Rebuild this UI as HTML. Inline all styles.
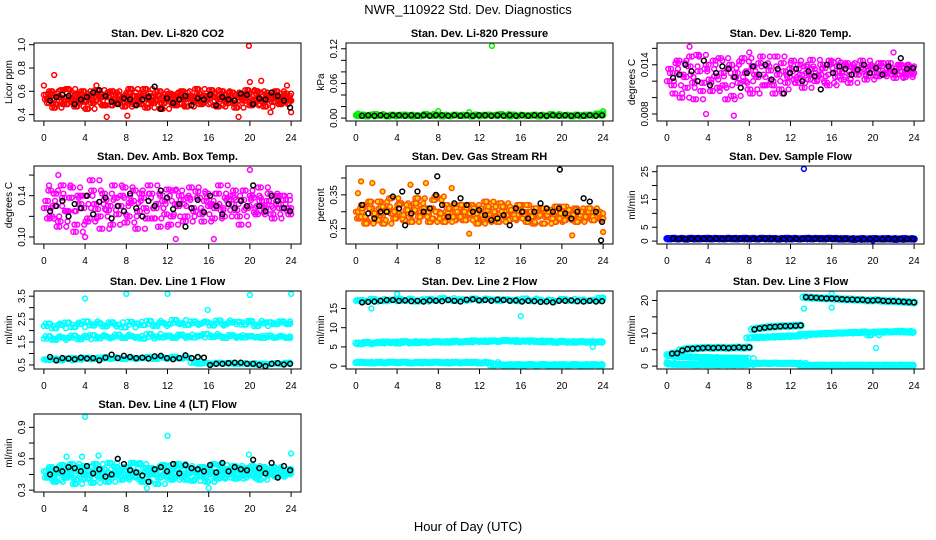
<!DOCTYPE html>
<html><head><meta charset="utf-8"><style>
body{margin:0;background:#fff}
svg{display:block;font-family:"Liberation Sans",sans-serif}
</style></head><body>
<svg id="c" width="936" height="540" viewBox="0 0 936 540">
<rect width="936" height="540" fill="#fff"/>
<text x="468" y="14" text-anchor="middle" font-size="13">NWR_110922  Std. Dev. Diagnostics</text>
<text x="468" y="531" text-anchor="middle" font-size="13">Hour of Day (UTC)</text>
</svg>
<script>
const xTicks=[0,4,8,12,16,20,24];
// CO2
const co2A=[57,53,60,49,55,51,62,54,47,58,52,56,50,61,55,48,59,53,57,51,56,62,49,54,58,46,56,52,60,50,54,57,48,59,53,55,51,62,49,56,54,58,47,60,52,55,50,57,54,61,48,53,59,51,56,54,60,49,56,53];
const co2B=[50,58,46,55,61,49,53,57,51,60,45,56,52,58,48,55,60,50,53,47,59,51,56,49,62,53,50,57,45,55,58,49,54,60,47,56,52,58,50,55,61,48,53,57,50,59,46,55,52,58,49,60,53,47,57,51,55,50,58,52];
const co2Black=[52,55,57,56,49,53,55,59,61,56,51,49,54,53,48,53,55,64,45,54,50,53,56,48,54,53,57,48,55,53,52,58,57,49,54,53,59,56,52,46];
const co2OutH=[1.0,19.9,20.0,21.1,6.1,8.1,18.9,22,24,0,23.6,5.1];
const co2OutV=[0.74,0.99,0.68,0.69,0.38,0.39,0.38,0.42,0.42,0.65,0.65,0.65];
// Pressure
const presG=[5,4,6,3,5,7,4,5,3,6,5,4,6,5,3,5,4,7,5,4,6,3,5,4,6,5,4,5,3,6,5,4,6,5,4,7,5,3,6,4,5,5,4,6,3,5,4,7,5,6,4,5,3,6,5,4,6,5,8,5];
const presBlack=[4,5,4,5,4,5,5,4,5,4,5,4,5,5,4,5,4,5,4,5,5,4,5,4,5,4,5,4,5,5,4,5,4,5,4,5,4,5,4,5];
const presOutH=[13.2,8,0.2,24,11];
const presOutV=[0.125,0.012,0.008,0.012,0.01];
// Li-820 temp
const tmpA=[120,135,105,145,128,112,150,98,132,118,140,108,126,148,115,136,102,130,144,120,110,138,125,150,115,133,105,128,142,118,135,122,140,112,130,146,120,128,136,115,143,125,132,140,118,137,128,145,122,134,138,126,142,130,136,124,140,132,128,135];
const tmpB=[130,115,142,100,125,138,118,152,108,135,122,145,112,130,98,140,125,118,148,132,105,128,142,115,138,120,150,110,132,125,145,118,128,138,122,135,126,140,118,145,130,138,122,142,128,135,132,140,126,138,130,142,128,136,132,128,140,125,138,130];
const tmpBlack=[124,128,140,132,120,145,115,130,138,135,125,112,130,138,128,140,122,135,105,130,135,120,132,126,110,140,130,138,135,128,134,140,130,136,128,138,132,148,135,136];
const tmpOutH=[2.2,6.5,3.8,8,22];
const tmpOutV=[0.0162,0.0078,0.008,0.0155,0.0155];
// Amb box temp
const ambA=[128,135,120,142,115,138,125,148,112,132,140,118,145,127,108,136,130,150,122,140,114,133,145,125,138,118,142,128,110,135,146,120,132,140,115,138,128,144,122,135,130,118,142,126,138,132,145,120,136,128,140,124,148,130,135,122,140,128,136,125];
const ambB=[118,145,130,110,150,125,138,105,140,128,115,155,132,120,142,126,112,138,130,148,120,135,108,142,128,150,118,132,140,122,112,145,130,136,120,148,125,138,115,142,132,128,150,120,136,140,126,112,145,130,138,122,135,128,142,118,132,140,128,122];
const ambBlack=[125,130,135,120,132,128,140,122,134,138,118,130,125,142,128,120,135,130,145,138,127,132,110,128,136,124,140,130,122,132,128,135,130,150,130,125,140,135,128,125];
const ambOutH=[20,0.5,1.4,12.8,16.5,4];
const ambOutV=[0.165,0.15,0.16,0.098,0.098,0.1];
// RH
const rhA=[300,280,320,270,310,290,330,265,305,295,285,325,275,315,300,340,290,310,270,335,300,285,320,295,275,310,300,290,320,280,305,270,315,295,285,325,300,275,310,290,320,280,300,265,310,295,285,305,270,315,300,290,280,310,295,275,305,300,285,290];
const rhB=[285,310,265,330,295,275,315,300,340,280,320,290,305,270,325,285,310,300,280,345,295,270,310,285,300,320,275,295,310,265,290,330,280,300,270,315,290,305,280,320,300,270,285,310,290,265,300,280,315,295,275,305,290,270,300,285,310,275,295,280];
const rhBlack=[320,295,280,300,300,345,310,260,295,360,300,310,350,320,285,325,340,320,300,305,290,275,280,290,260,310,300,280,300,325,310,300,310,295,280,300,340,330,300,270];
const rhOutH=[0.2,0.5,1.6,2.6,5.3,6.8,11,21,24,9.3];
const rhOutV=[0.355,0.39,0.385,0.36,0.38,0.385,0.235,0.23,0.24,0.37];
const rhBOutH=[19.8,23.8,7.9,4.5];
const rhBOutV=[0.425,0.215,0.405,0.36];
// Sample flow
const sfBlue=[9,8,10,8,9,7,10,9,8,9,10,8,9,9,8,10,9,8,9,10,8,9,8,10,9,8,9,7,9,10,8,9,8,9,10,8,9,9,8,10,9,8,7,9,8,6,8,9,7,8,9,8,7,9,8,6,8,9,8,7];
const sfBlack=[9,9,8,9,9,8,9,9,8,9,9,8,9,8,9,9,8,9,8,8,9,8,9,8,8,9,8,8,7,8,7,7,7,8,7,7,8,7,7,8];
const sfOutH=[13.3,20];
const sfOutV=[26,0.2];
// Line 1
const l1Top=[220,230,210,225,235,215,228,240,222,232,218,236,226,214,238,230,224,242,220,234,228,246,232,225,240,230,236,222,244,228,235,238,226,242,220,232,236,228,240,230];
const l1Mid=[165,175,160,170,168,178,162,172,180,166,175,170,182,168,176,172,165,185,174,170,178,168,182,175,170,178,185,172,176,168,180,174,170,176,172,168,178,170,174,168];
const l1Low=[75,72,78,70,76,80,74,82,78,76,84,78,80,76,82,78,80,85,76,82,80,86,78,82,60,56,58,55,60,58,56,54,58,55,52,56,54,58,55,60];
const l1Black=[85,70,80,78,75,82,78,80,70,82,95,80,90,85,80,82,78,88,90,80,75,80,92,80,85,82,50,55,55,58,60,60,55,55,50,45,55,58,52,55];
const l1OutH=[4,8,12,20,24,15.9];
const l1OutV=[3.4,3.6,3.6,3.55,3.6,2.9];
// Line 2
const l2Top=[170,172,168,175,171,169,173,176,170,174,168,172,175,171,177,173,170,174,172,176,171,175,173,170,174,172,169,176,171,173,168,172,170,175,171,169,173,170,172,178];
const l2Mid=[60,58,62,60,61,63,62,60,64,62,61,63,62,64,63,62,65,63,64,66,65,64,66,65,67,66,64,65,66,64,63,65,62,64,63,62,64,63,62,63];
const l2Low=[9,10,9,8,10,9,10,9,10,8,9,10,9,10,9,8,10,9,9,10,8,9,3,4,3,3,4,3,4,3,4,3,3,4,3,4,3,3,4,3];
const l2Black=[166,167,168,170,172,172,170,171,169,170,168,171,170,169,172,170,168,173,174,171,172,170,173,172,170,171,168,170,169,167,168,166,170,170,171,169,168,170,168,169];
const l2OutH=[1.5,16,23,4];
const l2OutV=[15,13,5,18.8];
// Line 3
const l3Black=[3.8,3.9,4.8,5.2,5.3,5.4,5.5,5.6,5.5,5.6,5.6,5.5,5.6,5.7,5.6,5.7,11.2,11.5,11.7,11.9,12,12.1,12.2,12.2,12.3,12.4,21.0,20.9,20.8,20.7,20.6,20.6,20.5,20.4,20.3,20.3,20.2,20.2,20.0,20.0,20.1,19.9,19.8,19.8,19.7,19.6,19.5,19.4];
const l3Mid=[3.5,3.2,3.0,2.9,2.8,2.7,2.7,2.6,2.6,2.5,2.5,2.5,2.4,2.4,2.4,2.3,8.6,8.7,8.8,8.8,8.9,9.0,9.0,9.1,9.2,9.2,9.6,9.7,9.8,9.8,9.9,10.0,10.0,10.1,10.1,10.2,10.3,10.2,10.4,9.5,10.3,10.4,10.5,10.4,10.5,10.6,10.4,10.3];
const l3Low=[0.8,0.6,0.5,0.5,0.5,0.5,0.4,0.5,0.5,0.5,0.4,0.5,0.5,0.4,0.5,0.5,0.9,0.9,0.8,0.9,0.8,0.9,0.8,0.8,0.9,0.8,0.3,0.3,0.2,0.3,0.3,0.2,0.3,0.3,0.2,0.3,0.3,0.3,0.2,0.3,0.3,0.2,0.3,0.3,0.2,0.3,0.3,0.2];
const l3OutH=[13.3,16,16,20.3,0];
const l3OutV=[17.5,17.8,22,5.5,1.2];
// Line 4
const l4A=[48,42,52,38,46,50,44,55,40,48,53,45,37,50,47,42,56,44,49,40,52,46,43,55,38,48,51,45,42,54,47,40,50,44,53,46,39,49,52,43,47,55,41,48,50,45,53,42,47,51,44,49,40,52,46,48,43,50,45,47];
const l4B=[44,50,40,47,54,42,49,36,52,45,41,48,55,43,50,38,46,52,44,49,42,56,47,40,51,45,48,36,53,44,49,42,55,46,40,50,47,43,52,38,48,45,54,42,49,46,41,51,44,48,53,42,47,50,45,52,43,48,46,50];
const l4Black=[45,50,48,52,51,48,53,46,50,43,45,60,55,49,47,44,38,50,52,48,55,46,54,51,50,48,54,47,56,48,52,50,49,59,51,46,56,42,53,49];
const l4OutH=[4,12,2.2,5.3,19.9,24,16,10,3.7];
const l4OutV=[1.0,0.82,0.62,0.63,0.64,0.65,0.32,0.32,0.62];

const svg=document.getElementById('c');
const NS='http://www.w3.org/2000/svg';
function mk(tag,attrs,parent){const e=document.createElementNS(NS,tag);for(const k in attrs)e.setAttribute(k,attrs[k]);(parent||svg).appendChild(e);return e;}
const colX=[34,346,657], rowY=[43,166,291,414], W=267, H=78;
const RED='#ff0000',GRN='#00ee00',MAG='#ff00ff',CYN='#00ffff',BLU='#0000ff',BLK='#000000';

function panel(p){
  const x0=colX[p.col],y0=rowY[p.row];
  const g=mk('g',{});
  
  
  const xs=h=>x0+W*(h+0.96)/25.92;
  const pad=(p.ymax-p.ymin)*0.04;
  const ys=v=>y0+H-H*(v-p.ymin+pad)/(p.ymax-p.ymin+2*pad);
  const t=mk('text',{x:x0+W/2,y:y0-6,'text-anchor':'middle','font-size':11,'font-weight':'bold'},g);
  t.textContent=p.title;
  
  
  const yl=mk('text',{x:0,y:0,'text-anchor':'middle','font-size':10,transform:`translate(${x0-22},${y0+H/2}) rotate(-90)`},g);
  yl.textContent=p.ylab;
  
  
  mk('line',{x1:xs(0),x2:xs(24),y1:y0+H,y2:y0+H,stroke:'#000'},g);
  xTicks.forEach(h=>{
    mk('line',{x1:xs(h),x2:xs(h),y1:y0+H,y2:y0+H+5,stroke:'#000'},g);
    const tl=mk('text',{x:xs(h),y:y0+H+20,'text-anchor':'middle','font-size':10},g);
    tl.textContent=h;
    
    
  });
  p.ticks.forEach(v=>{
    mk('line',{x1:x0,x2:x0-5,y1:ys(v),y2:ys(v),stroke:'#000'},g);
  });
  p.labels.forEach(v=>{
    const tl=mk('text',{x:0,y:0,'text-anchor':'middle','font-size':10,transform:`translate(${x0-9},${ys(v)}) rotate(-90)`},g);
    tl.textContent=p.fmt?p.fmt(v):v;
    
    
  });
  const pts=mk('g',{fill:'none','stroke-width':1.5},g);
  function dot(h,v,col,fill,r){
    const c=mk('circle',{cx:xs(h),cy:ys(v),r:r||2.4,stroke:col,fill:fill||'none'},pts);
    
    
  }
  p.series.forEach(s=>{
    if(s.h){s.v.forEach((v,i)=>dot(s.h[i],v*s.k,s.c,s.f,s.r));}
    else{
      const n=s.v.length,a=s.a??0.1,b=s.b??23.9,rep=s.rep||1;
      for(let j=0;j<rep;j++){
        const sh=j*(b-a)/(n-1)/rep;
        const off=j===0?0:(j%2?1:-1);
        s.v.forEach((v,i)=>{
          const vv=s.v[Math.max(0,Math.min(n-1,i+off))];
          const h=Math.min(b,a+sh+(b-a)*i/(n-1));
          dot(h,vv*s.k,s.c,s.f,s.r);
        });
      }
    }
  });
  const b=mk('rect',{x:x0,y:y0,width:W,height:H,fill:'none',stroke:'#000'},g);
  
  
}
const f2=v=>v.toFixed(1), f3=v=>v.toFixed(3), fx2=v=>v.toFixed(2);
const RHC='#ff5500',RHF='#ffdd00';
panel({name:'panel-li820-co2',col:0,row:0,title:'Stan. Dev. Li-820 CO2',ylab:'Licor ppm',ymin:0.37,ymax:0.99,ticks:[0.4,0.6,0.8,1.0],labels:[0.4,0.6,0.8,1.0],fmt:f2,
 series:[{v:co2A,k:0.01,c:RED,a:0,b:23.9,rep:4},{v:co2B,k:0.01,c:RED,a:0.3,b:24,rep:4},{h:co2OutH,v:co2OutV,k:1,c:RED},{v:co2Black,k:0.01,c:BLK,a:0.6,b:23.9}]});
panel({name:'panel-li820-pressure',col:1,row:0,title:'Stan. Dev. Li-820 Pressure',ylab:'kPa',ymin:0,ymax:0.125,ticks:[0,0.02,0.04,0.06,0.08,0.1,0.12],labels:[0,0.06,0.12],fmt:fx2,
 series:[{v:presG,k:0.001,c:GRN,a:0,b:24,rep:4},{h:presOutH,v:presOutV,k:1,c:GRN},{v:presBlack,k:0.001,c:BLK,a:0.6,b:23.9}]});
panel({name:'panel-li820-temp',col:2,row:0,title:'Stan. Dev. Li-820 Temp.',ylab:'degrees C',ymin:0.0075,ymax:0.0163,ticks:[0.008,0.010,0.012,0.014,0.016],labels:[0.008,0.014],fmt:f3,
 series:[{v:tmpA,k:0.0001,c:MAG,a:0,b:23.9,rep:3},{v:tmpB,k:0.0001,c:MAG,a:0.3,b:24,rep:3},{h:tmpOutH,v:tmpOutV,k:1,c:MAG},{v:tmpBlack,k:0.0001,c:BLK,a:0.6,b:23.9}]});
panel({name:'panel-amb-box-temp',col:0,row:1,title:'Stan. Dev. Amb. Box Temp.',ylab:'degrees C',ymin:0.096,ymax:0.166,ticks:[0.10,0.12,0.14,0.16],labels:[0.10,0.14],fmt:fx2,
 series:[{v:ambA,k:0.001,c:MAG,a:0,b:23.9,rep:3},{v:ambB,k:0.001,c:MAG,a:0.3,b:24,rep:3},{h:ambOutH,v:ambOutV,k:1,c:MAG},{v:ambBlack,k:0.001,c:BLK,a:0.6,b:23.9}]});
panel({name:'panel-gas-stream-rh',col:1,row:1,title:'Stan. Dev. Gas Stream RH',ylab:'percent',ymin:0.213,ymax:0.427,ticks:[0.25,0.30,0.35,0.40],labels:[0.25,0.35],fmt:fx2,
 series:[{v:rhA,k:0.001,c:RHC,f:RHF,a:0,b:23.9,rep:4},{v:rhB,k:0.001,c:RHC,f:RHF,a:0.3,b:24,rep:4},{h:rhOutH,v:rhOutV,k:1,c:RHC,f:RHF},{v:rhBlack,k:0.001,c:BLK,a:0.6,b:23.9},{h:rhBOutH,v:rhBOutV,k:1,c:BLK}]});
panel({name:'panel-sample-flow',col:2,row:1,title:'Stan. Dev. Sample Flow',ylab:'ml/min',ymin:0,ymax:26,ticks:[0,5,10,15,20,25],labels:[0,5,15,25],
 series:[{v:sfBlue,k:0.1,c:BLU,a:0,b:24,rep:4,r:2.8},{h:sfOutH,v:sfOutV,k:1,c:BLU},{v:sfBlack,k:0.1,c:BLK,a:0.6,b:23.9}]});
panel({name:'panel-line1-flow',col:0,row:2,title:'Stan. Dev. Line 1 Flow',ylab:'ml/min',ymin:0.45,ymax:3.6,ticks:[0.5,1,1.5,2,2.5,3,3.5],labels:[0.5,1.5,2.5,3.5],fmt:f2,
 series:[{v:l1Top,k:0.01,c:CYN,a:0,b:23.9,rep:4},{v:l1Mid,k:0.01,c:CYN,a:0,b:23.9,rep:4},{v:l1Low,k:0.01,c:CYN,a:0,b:23.9,rep:4},{h:l1OutH,v:l1OutV,k:1,c:CYN},{v:l1Black,k:0.01,c:BLK,a:0.6,b:23.9}]});
panel({name:'panel-line2-flow',col:1,row:2,title:'Stan. Dev. Line 2 Flow',ylab:'ml/min',ymin:0,ymax:18.8,ticks:[0,5,10,15],labels:[0,5,10,15],
 series:[{v:l2Top,k:0.1,c:CYN,a:0,b:24,rep:4},{v:l2Mid,k:0.1,c:CYN,a:0,b:23.9,rep:4,r:2.8},{v:l2Low,k:0.1,c:CYN,a:0,b:23.9,rep:4,r:2.8},{h:l2OutH,v:l2OutV,k:1,c:CYN},{v:l2Black,k:0.1,c:BLK,a:0.6,b:23.9}]});
panel({name:'panel-line3-flow',col:2,row:2,title:'Stan. Dev. Line 3 Flow',ylab:'ml/min',ymin:0,ymax:22,ticks:[0,5,10,15,20],labels:[0,5,10,20],
 series:[{v:l3Black,k:1,c:CYN,a:0.5,b:24,r:3.2,rep:2},{v:l3Mid,k:1,c:CYN,a:0,b:23.9,rep:4,r:2.8},{v:l3Low,k:1,c:CYN,a:0,b:23.9,rep:4,r:2.8},{h:l3OutH,v:l3OutV,k:1,c:CYN},{v:l3Black,k:1,c:BLK,a:0.5,b:24}]});
panel({name:'panel-line4-flow',col:0,row:3,title:'Stan. Dev. Line 4 (LT) Flow',ylab:'ml/min',ymin:0.31,ymax:1.0,ticks:[0.3,0.45,0.6,0.75,0.9],labels:[0.3,0.6,0.9],fmt:f2,
 series:[{v:l4A,k:0.01,c:CYN,a:0,b:23.9,rep:4},{v:l4B,k:0.01,c:CYN,a:0.3,b:24,rep:4},{h:l4OutH,v:l4OutV,k:1,c:CYN},{v:l4Black,k:0.01,c:BLK,a:0.6,b:23.9}]});
</script>
</body></html>
